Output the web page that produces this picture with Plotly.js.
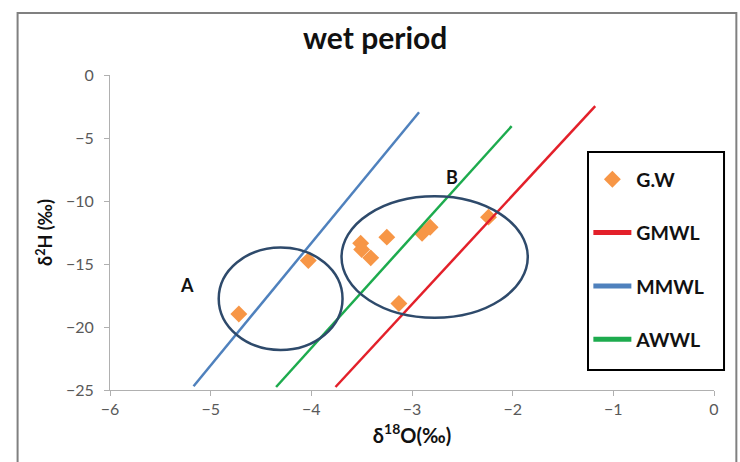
<!DOCTYPE html>
<html>
<head>
<meta charset="utf-8">
<script src="https://cdn.plot.ly/plotly-3.0.1.min.js"></script>
<style>html,body{margin:0;padding:0;background:#fff;}#chart{width:740px;height:462px;}</style>
</head>
<body>
<div id="chart"></div>
<script>
// Groundwater samples (G.W)
const gwX = [-4.72, -4.03, -3.51, -3.50, -3.41, -3.25, -2.90, -2.82, -2.24, -3.13];
const gwY = [-18.97, -14.73, -13.35, -13.85, -14.51, -12.87, -12.56, -12.08, -11.28, -18.13];
// Meteoric water lines (endpoints as drawn)
const gmwlX = [-3.76, -1.18];
const gmwlY = [-24.76, -2.47];
const mmwlX = [-5.17, -2.93];
const mmwlY = [-24.70, -2.95];
const awwlX = [-4.35, -2.01];
const awwlY = [-24.76, -4.06];
// Group ellipses [x0, x1, y0, y1]
const groupA = [-4.92, -3.69, -21.82, -13.69];
const groupB = [-3.70, -1.85, -19.27, -9.63];
const groupLabels = ['A', 'B'];
const labelX = [-5.24, -2.60];
const labelY = [-16.64, -8.12];
const lineNames = ['GMWL', 'MMWL', 'AWWL'];
const lineColors = ['#E3202A', '#4F81BD', '#1DAB4E'];

const F = 'Lato, "Open Sans", sans-serif';

const lineData = [[gmwlX, gmwlY], [mmwlX, mmwlY], [awwlX, awwlY]];

const traces = [
  {x: gwX, y: gwY, type: 'scatter', mode: 'markers', name: 'G.W', legendgroup: 'g0',
   marker: {symbol: 'diamond', size: 13, color: '#F79646'}}
];
lineData.forEach((d, i) => {
  traces.push({x: d[0], y: d[1], type: 'scatter', mode: 'lines', name: lineNames[i],
    showlegend: false, legendgroup: 'g' + (i + 1), line: {color: lineColors[i], width: 2.5}});
});
// legend entries (thick bars as in the reference legend)
lineNames.forEach((n, i) => {
  traces.push({x: [null], y: [null], type: 'scatter', mode: 'lines', name: n,
    legendgroup: 'g' + (i + 1), line: {color: lineColors[i], width: 5}, hoverinfo: 'skip'});
});

const ell = (b) => ({type: 'circle', xref: 'x', yref: 'y', x0: b[0], x1: b[1], y0: b[2], y1: b[3],
  line: {color: '#2E4A6B', width: 2.5}, fillcolor: 'rgba(0,0,0,0)'});

const layout = {
  width: 740, height: 462,
  margin: {l: 110, r: 26, t: 75, b: 72},
  paper_bgcolor: '#ffffff', plot_bgcolor: '#ffffff',
  font: {family: F, color: '#595959', size: 15},
  title: {text: '<b>wet period</b>', font: {family: F, size: 30, color: '#111111'},
          x: 0.507, xanchor: 'center', y: 0.917, yanchor: 'middle', yref: 'container'},
  xaxis: {range: [-6, 0], dtick: 1, showgrid: false, zeroline: false, showline: true,
          linecolor: '#B0B0B0', linewidth: 1, ticks: 'outside', ticklen: 5, tickcolor: '#B0B0B0',
          tickfont: {family: F, size: 16, color: '#595959'},
          title: {text: '<b>δ<sup>18</sup>O(‰)</b>', font: {family: F, size: 20, color: '#111111'}, standoff: 11}},
  yaxis: {range: [-25, 0], dtick: 5, showgrid: false, zeroline: false, showline: true,
          linecolor: '#B0B0B0', linewidth: 1, ticks: 'outside', ticklen: 5, tickcolor: '#B0B0B0',
          ticklabelstandoff: 7,
          tickfont: {family: F, size: 16, color: '#595959'},
          title: {text: '<b>δ<sup>2</sup>H (‰)</b>', font: {family: F, size: 18, color: '#111111'}, standoff: 8}},
  showlegend: true,
  legend: {x: 0.792, y: 0.73, xanchor: 'left', yanchor: 'top',
           borderwidth: 0, bgcolor: 'rgba(0,0,0,0)',
           font: {family: F, size: 19.5, color: '#111111', weight: 'bold'},
           tracegroupgap: 25, itemwidth: 38},
  shapes: [
    ell(groupA), ell(groupB),
    {type: 'rect', xref: 'paper', yref: 'paper', x0: 0.7914, x1: 1.0166, y0: 0.0635, y1: 0.7556,
     line: {color: '#000000', width: 2}, fillcolor: '#ffffff', layer: 'above'},
    {type: 'rect', xref: 'paper', yref: 'paper', x0: -0.153, x1: 1.037, y0: -0.3, y1: 1.197,
     line: {color: '#808080', width: 2}, fillcolor: 'rgba(0,0,0,0)', layer: 'above'}
  ],
  annotations: groupLabels.map((t, i) => ({x: labelX[i], y: labelY[i], xref: 'x', yref: 'y',
    text: '<b>' + t + '</b>', showarrow: false, font: {family: F, size: 18, color: '#111111'}}))
};

Plotly.newPlot('chart', traces, layout, {displayModeBar: false, staticPlot: true});
</script>
</body>
</html>
